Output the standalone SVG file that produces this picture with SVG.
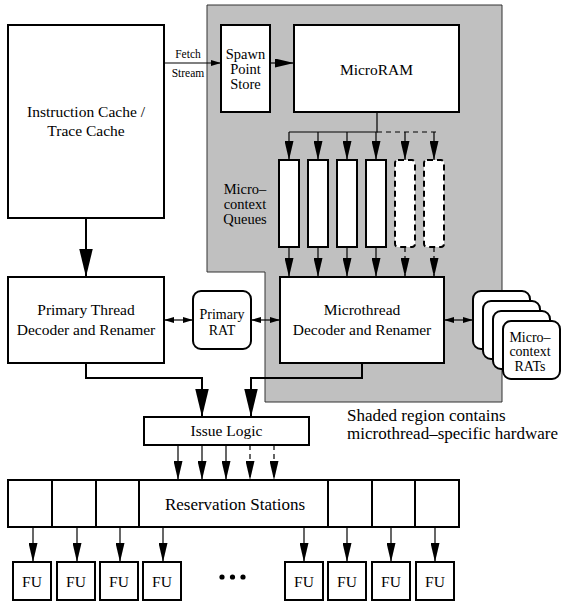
<svg xmlns="http://www.w3.org/2000/svg" width="564" height="603" viewBox="0 0 564 603">
  <style>
    text { font-family: "Liberation Serif", "Times New Roman", "DejaVu Serif", serif; fill: #000000; }
    .box { fill: #ffffff; stroke: #000000; stroke-width: 2; }
    .rbox { fill: #ffffff; stroke: #000000; stroke-width: 2; }
    .dq { fill: #ffffff; stroke: #000000; stroke-width: 2; stroke-dasharray: 6 4; }
    .lbl { font-size: 15.5px; text-anchor: middle; }
    .stk { font-size: 14.5px; text-anchor: middle; }
    .sm { font-size: 11.5px; text-anchor: middle; }
    .rat { font-size: 14px; text-anchor: middle; }
    .note { font-size: 17px; }
    .thick { fill: none; stroke: #000000; stroke-width: 2; }
    .thin { fill: none; stroke: #000000; stroke-width: 1.2; }
    .dash { fill: none; stroke: #000000; stroke-width: 1.2; stroke-dasharray: 5 4; }
    .div { stroke: #000000; stroke-width: 2; }
  </style>
  <defs>
    <marker id="big" markerUnits="userSpaceOnUse" markerWidth="28" markerHeight="14" viewBox="0 0 27 13" refX="27" refY="6.5" orient="auto">
      <path d="M0,0 L27,6.5 L0,13 Z" fill="#000"/>
    </marker>
    <marker id="mid" markerUnits="userSpaceOnUse" markerWidth="19" markerHeight="9" viewBox="0 0 19 9" refX="19" refY="4.5" orient="auto">
      <path d="M0,0 L19,4.5 L0,9 Z" fill="#000"/>
    </marker>
    <marker id="small" markerUnits="userSpaceOnUse" markerWidth="10" markerHeight="6" viewBox="0 0 10 6" refX="10" refY="3" orient="auto-start-reverse">
      <path d="M0,0 L10,3 L0,6 Z" fill="#000"/>
    </marker>
  </defs>

  <!-- shaded microthread hardware region -->
  <path id="shaded-region" d="M207,5 H502 V402 H265 V272 H207 Z" fill="#c0c0c0" stroke="#333" stroke-width="1"/>

  <!-- connectors -->
  <g id="connectors">
    <line class="thin" x1="164" y1="63" x2="221" y2="63" marker-end="url(#small)"/>
    <line class="thin" x1="270" y1="63" x2="294" y2="63" stroke-width="1.5" marker-end="url(#mid)"/>
    <line class="thick" x1="86" y1="218" x2="86" y2="277" marker-end="url(#big)"/>

    <!-- MicroRAM fan-out to queues -->
    <path class="thin" d="M377,112 V132 H289"/>
    <line class="dash" x1="377" y1="132" x2="437" y2="132"/>
    <line class="thin" x1="289" y1="132" x2="289" y2="160" marker-end="url(#mid)"/>
    <line class="thin" x1="318" y1="132" x2="318" y2="160" marker-end="url(#mid)"/>
    <line class="thin" x1="347" y1="132" x2="347" y2="160" marker-end="url(#mid)"/>
    <line class="thin" x1="376" y1="132" x2="376" y2="160" marker-end="url(#mid)"/>
    <line class="thin" x1="405" y1="132" x2="405" y2="160" marker-end="url(#mid)"/>
    <line class="thin" x1="434" y1="132" x2="434" y2="160" marker-end="url(#mid)"/>

    <!-- queues into microthread decoder -->
    <line class="thin" x1="289" y1="247" x2="289" y2="277" marker-end="url(#mid)"/>
    <line class="thin" x1="318" y1="247" x2="318" y2="277" marker-end="url(#mid)"/>
    <line class="thin" x1="347" y1="247" x2="347" y2="277" marker-end="url(#mid)"/>
    <line class="thin" x1="376" y1="247" x2="376" y2="277" marker-end="url(#mid)"/>
    <line class="dash" x1="405" y1="247" x2="405" y2="277" marker-end="url(#mid)"/>
    <line class="dash" x1="434" y1="247" x2="434" y2="277" marker-end="url(#mid)"/>

    <!-- RAT links -->
    <line class="thin" x1="164" y1="320" x2="193" y2="320" marker-start="url(#small)" marker-end="url(#small)"/>
    <line class="thin" x1="251" y1="320" x2="280" y2="320" marker-start="url(#small)" marker-end="url(#small)"/>
    <line class="thin" x1="444" y1="320" x2="473" y2="320" marker-start="url(#small)" marker-end="url(#small)"/>

    <!-- decoders into issue logic -->
    <path class="thick" d="M86,363 V378 H202 V417" marker-end="url(#big)"/>
    <path class="thick" d="M362,363 V378 H251 V417" marker-end="url(#big)"/>

    <!-- issue logic into reservation stations -->
    <line class="thin" x1="178" y1="445" x2="178" y2="480" marker-end="url(#mid)"/>
    <line class="thin" x1="202" y1="445" x2="202" y2="480" marker-end="url(#mid)"/>
    <line class="thin" x1="226" y1="445" x2="226" y2="480" marker-end="url(#mid)"/>
    <line class="dash" x1="250" y1="445" x2="250" y2="480" marker-end="url(#mid)"/>
    <line class="dash" x1="274" y1="445" x2="274" y2="480" marker-end="url(#mid)"/>

    <!-- reservation stations into functional units -->
    <line class="thin" x1="33" y1="527" x2="33" y2="562" marker-end="url(#mid)"/>
    <line class="thin" x1="77" y1="527" x2="77" y2="562" marker-end="url(#mid)"/>
    <line class="thin" x1="120" y1="527" x2="120" y2="562" marker-end="url(#mid)"/>
    <line class="thin" x1="163" y1="527" x2="163" y2="562" marker-end="url(#mid)"/>
    <line class="thin" x1="304" y1="527" x2="304" y2="562" marker-end="url(#mid)"/>
    <line class="thin" x1="347" y1="527" x2="347" y2="562" marker-end="url(#mid)"/>
    <line class="thin" x1="391" y1="527" x2="391" y2="562" marker-end="url(#mid)"/>
    <line class="thin" x1="435" y1="527" x2="435" y2="562" marker-end="url(#mid)"/>
  </g>

  <g id="fetch-stream-label">
    <text class="sm" x="188" y="58">Fetch</text>
    <text class="sm" x="188" y="77">Stream</text>
  </g>

  <g id="icache">
    <rect class="box" x="8" y="25" width="156" height="193"/>
    <text class="lbl" x="86" y="117">Instruction Cache /</text>
    <text class="lbl" x="86" y="136">Trace Cache</text>
  </g>

  <g id="spawn-point-store">
    <rect class="box" x="221" y="25" width="49" height="87"/>
    <text class="stk" x="245.5" y="59">Spawn</text>
    <text class="stk" x="245.5" y="74">Point</text>
    <text class="stk" x="245.5" y="89">Store</text>
  </g>

  <g id="microram">
    <rect class="box" x="294" y="25" width="165" height="87"/>
    <text class="lbl" x="376.5" y="75">MicroRAM</text>
  </g>

  <g id="queues-label">
    <text class="stk" x="245" y="194">Micro–</text>
    <text class="stk" x="245" y="209">context</text>
    <text class="stk" x="245" y="224">Queues</text>
  </g>

  <g id="queues">
    <rect class="box" x="279" y="160" width="20" height="87"/>
    <rect class="box" x="308" y="160" width="20" height="87"/>
    <rect class="box" x="337" y="160" width="20" height="87"/>
    <rect class="box" x="366" y="160" width="20" height="87"/>
    <rect class="dq" x="395" y="160" width="20" height="87" rx="3"/>
    <rect class="dq" x="424" y="160" width="20" height="87" rx="3"/>
  </g>

  <g id="primary-decoder">
    <rect class="box" x="8" y="277" width="156" height="86"/>
    <text class="lbl" x="86" y="315">Primary Thread</text>
    <text class="lbl" x="86" y="335">Decoder and Renamer</text>
  </g>

  <g id="primary-rat">
    <rect class="rbox" x="193" y="291" width="58" height="58" rx="8"/>
    <text class="rat" x="222" y="319">Primary</text>
    <text class="rat" x="222" y="335">RAT</text>
  </g>

  <g id="microthread-decoder">
    <rect class="box" x="280" y="277" width="164" height="86"/>
    <text class="lbl" x="362" y="315">Microthread</text>
    <text class="lbl" x="362" y="335">Decoder and Renamer</text>
  </g>

  <g id="microcontext-rats">
    <rect class="rbox" x="473" y="291" width="57" height="58" rx="8"/>
    <rect class="rbox" x="483" y="301" width="57" height="58" rx="8"/>
    <rect class="rbox" x="493" y="311" width="57" height="58" rx="8"/>
    <rect class="rbox" x="503" y="321" width="57" height="58" rx="8"/>
    <text class="rat" x="530" y="342">Micro–</text>
    <text class="rat" x="530" y="356">context</text>
    <text class="rat" x="530" y="371">RATs</text>
  </g>

  <g id="shaded-note">
    <text class="note" x="347" y="421">Shaded region contains</text>
    <text class="note" x="347" y="438.5">microthread–specific hardware</text>
  </g>

  <g id="issue-logic">
    <rect class="box" x="144" y="417" width="165" height="28"/>
    <text class="lbl" x="226.5" y="436">Issue Logic</text>
  </g>

  <g id="reservation-stations">
    <rect class="box" x="8" y="480" width="451" height="47"/>
    <line class="div" x1="52" y1="480" x2="52" y2="527"/>
    <line class="div" x1="96" y1="480" x2="96" y2="527"/>
    <line class="div" x1="139" y1="480" x2="139" y2="527"/>
    <line class="div" x1="328" y1="480" x2="328" y2="527"/>
    <line class="div" x1="372" y1="480" x2="372" y2="527"/>
    <line class="div" x1="415" y1="480" x2="415" y2="527"/>
    <text class="lbl" x="235" y="510" style="font-size:17px">Reservation Stations</text>
  </g>

  <g id="functional-units">
    <rect class="box" x="13" y="562" width="38" height="38"/>
    <text class="lbl" x="32" y="587">FU</text>
    <rect class="box" x="57" y="562" width="38" height="38"/>
    <text class="lbl" x="76" y="587">FU</text>
    <rect class="box" x="100" y="562" width="38" height="38"/>
    <text class="lbl" x="119" y="587">FU</text>
    <rect class="box" x="143" y="562" width="38" height="38"/>
    <text class="lbl" x="162" y="587">FU</text>
    <rect class="box" x="285" y="562" width="38" height="38"/>
    <text class="lbl" x="304" y="587">FU</text>
    <rect class="box" x="328" y="562" width="38" height="38"/>
    <text class="lbl" x="347" y="587">FU</text>
    <rect class="box" x="372" y="562" width="38" height="38"/>
    <text class="lbl" x="391" y="587">FU</text>
    <rect class="box" x="416" y="562" width="38" height="38"/>
    <text class="lbl" x="435" y="587">FU</text>
    <!-- ellipsis between unit groups -->
    <circle cx="222" cy="577" r="2.6" fill="#000"/>
    <circle cx="232.5" cy="577" r="2.6" fill="#000"/>
    <circle cx="243" cy="577" r="2.6" fill="#000"/>
  </g>
</svg>
